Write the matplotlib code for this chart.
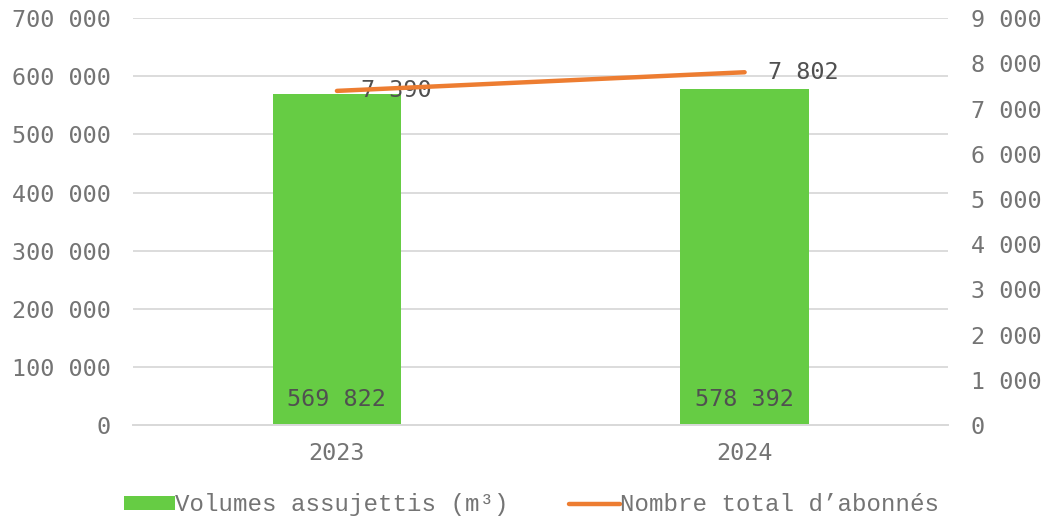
import matplotlib
matplotlib.use("Agg")
import matplotlib.pyplot as plt
from matplotlib.ticker import FuncFormatter, MultipleLocator
from matplotlib.patches import Patch
from matplotlib.lines import Line2D

# === data ===
years = ["2023", "2024"]
volumes = [569822, 578392]          # Volumes assujettis (m³)
abonnes = [7390, 7802]              # Nombre total d'abonnés

bar_color = "#66CC44"
line_color = "#ED7D31"
txt_color = "#747474"
lbl_color = "#505050"
grid_color = "#D9D9D9"

num_font = ["DejaVu Sans Mono"]
leg_font = ["Liberation Mono", "DejaVu Sans Mono"]
plt.rcParams["font.family"] = num_font
fs = 16.8


def fmt(v, pos=None):
    return f"{v:,.0f}".replace(",", " ")


fig = plt.figure(figsize=(10.48, 5.16), dpi=100)
ax = fig.add_axes([0.127, 0.176, 0.778, 0.789])
ax2 = ax.twinx()

x = list(range(len(years)))
ax.bar(x, volumes, width=0.315, color=bar_color, zorder=2)
ax.set_xlim(-0.5, 1.5)
ax.set_ylim(0, 700000)
ax.yaxis.set_major_locator(MultipleLocator(100000))
ax.yaxis.set_major_formatter(FuncFormatter(fmt))
ax.grid(axis="y", color=grid_color, linewidth=1.3, zorder=0)
ax.set_axisbelow(True)
ax.set_xticks(x)
ax.set_xticklabels(years)

for xi, v in zip(x, volumes):
    ax.text(xi, 45000, fmt(v), ha="center", va="center", fontsize=fs, color=lbl_color, zorder=3)

ax2.plot(x, abonnes, color=line_color, linewidth=3.2, solid_capstyle="round", zorder=4)
ax2.set_ylim(0, 9000)
ax2.yaxis.set_major_locator(MultipleLocator(1000))
ax2.yaxis.set_major_formatter(FuncFormatter(fmt))
for xi, v in zip(x, abonnes):
    ax2.annotate(fmt(v), (xi, v), xytext=(17, 0), textcoords="offset points",
                 ha="left", va="center", fontsize=fs, color=lbl_color)

for a in (ax, ax2):
    for s in ("left", "right", "top"):
        a.spines[s].set_visible(False)
    a.spines["bottom"].set_color(grid_color)
    a.spines["bottom"].set_linewidth(1.3)
ax.tick_params(axis="both", length=0, labelsize=fs, labelcolor=txt_color)
ax.tick_params(axis="x", pad=12)
ax.tick_params(axis="y", pad=16)
ax2.tick_params(axis="y", length=0, labelsize=fs, labelcolor=txt_color, pad=16)

handles = [Patch(facecolor=bar_color, edgecolor="none"),
           Line2D([0], [0], color=line_color, linewidth=3.2, solid_capstyle="round")]
labels = ["Volumes assujettis (m³)", "Nombre total d’abonnés"]
fig.legend(handles, labels, loc="lower center", bbox_to_anchor=(0.507, -0.043), ncol=2,
           frameon=False, prop={"family": leg_font, "size": 17.4}, labelcolor=txt_color,
           handlelength=2.1, handleheight=0.55, handletextpad=0.0, columnspacing=2.5)

plt.savefig("out.png", dpi=100)
